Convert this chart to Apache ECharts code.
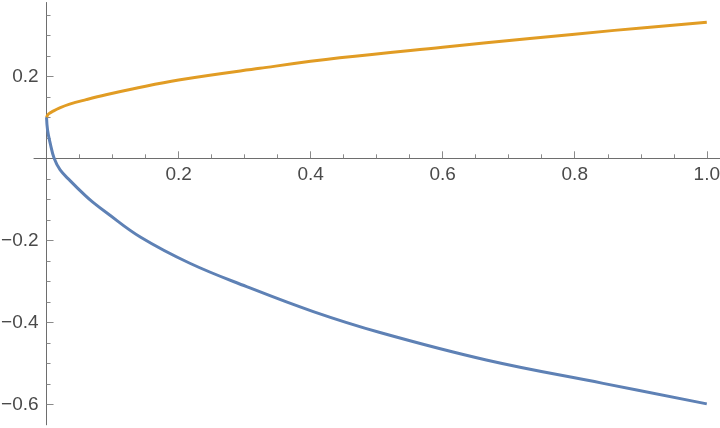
<!DOCTYPE html>
<html>
<head>
<meta charset="utf-8">
<script src="https://cdn.jsdelivr.net/npm/echarts@6/dist/echarts.min.js"></script>
<style>
  html, body { margin: 0; padding: 0; background: #fff; }
  #chart { width: 720px; height: 428px; }
</style>
</head>
<body>
<div id="chart"></div>
<script>
// values
var blueX = [0, 0.0015, 0.0055, 0.0115, 0.0206, 0.036, 0.058, 0.07, 0.091, 0.142, 0.217, 0.303, 0.404, 0.505, 0.666, 0.843, 1]
var blueY = [0.1, 0.069, 0.037, 0, -0.0285, -0.055, -0.09, -0.107, -0.133, -0.192, -0.256, -0.313, -0.374, -0.425, -0.492, -0.549, -0.599]
var orangeX = [0, 0.003, 0.01, 0.02, 0.035, 0.06, 0.09, 0.13, 0.2, 0.323, 0.444, 0.6, 0.732, 0.86, 1]
var orangeY = [0.1, 0.108, 0.115, 0.123, 0.132, 0.143, 0.155, 0.169, 0.191, 0.2195, 0.245, 0.271, 0.292, 0.312, 0.332]

var xMajor = [0.2, 0.4, 0.6, 0.8, 1.0]
var xMinor = [0.05, 0.1, 0.15, 0.25, 0.3, 0.35, 0.45, 0.5, 0.55, 0.65, 0.7, 0.75, 0.85, 0.9, 0.95]
var yMajor = [-0.6, -0.4, -0.2, 0.2]
var yMinor = [-0.55, -0.5, -0.45, -0.35, -0.3, -0.25, -0.15, -0.1, -0.05, 0.05, 0.1, 0.15, 0.25, 0.3, 0.35]

var xMin = -0.019, xMax = 1.02
var yMin = -0.65, yMax = 0.38

// grid box in pixels
var gLeft = 34, gRight = 0, gTop = 2.5, gBottom = 3.2
var gW = 720 - gLeft - gRight
var gH = 428 - gTop - gBottom
// axes cross at (0, 0): move them inward from the grid edge
var xAxisOffset = -(gH * (0 - yMin) / (yMax - yMin))
var yAxisOffset = -(gW * (0 - xMin) / (xMax - xMin))

function pairs(xs, ys) {
  return xs.map(function (x, i) { return [x, ys[i]] })
}

var labelFont = { color: '#4a4a4a', fontSize: 19, fontFamily: 'Liberation Sans' }
var axisGray = '#6e6e6e'

function xAxisOf(major) {
  return {
    type: 'value',
    position: 'bottom',
    offset: xAxisOffset,
    min: xMin,
    max: xMax,
    splitLine: { show: false },
    axisLine: { show: major, onZero: false, lineStyle: { color: axisGray, width: 1 } },
    axisTick: {
      show: true,
      inside: true,
      length: major ? 7 : 4,
      customValues: major ? xMajor : xMinor,
      lineStyle: { color: '#8a8a8a' }
    },
    axisLabel: Object.assign({
      show: major,
      margin: 7,
      customValues: xMajor,
      formatter: function (v) { return Number(v).toFixed(1) }
    }, labelFont)
  }
}

function yAxisOf(major) {
  return {
    type: 'value',
    position: 'left',
    offset: yAxisOffset,
    min: yMin,
    max: yMax,
    splitLine: { show: false },
    axisLine: { show: major, onZero: false, lineStyle: { color: axisGray, width: 1 } },
    axisTick: {
      show: true,
      inside: true,
      length: major ? 7 : 4,
      customValues: major ? yMajor : yMinor,
      lineStyle: { color: '#8a8a8a' }
    },
    axisLabel: Object.assign({
      show: major,
      margin: 8,
      customValues: yMajor,
      formatter: function (v) {
        var s = Math.abs(Number(v)).toFixed(1)
        return v < 0 ? '\u2212' + s : s
      }
    }, labelFont)
  }
}

var chart = echarts.init(document.getElementById('chart'))
chart.setOption({
  animation: false,
  backgroundColor: '#ffffff',
  grid: {
    left: gLeft,
    right: gRight,
    top: gTop,
    bottom: gBottom,
    containLabel: false,
    outerBoundsMode: 'none'
  },
  xAxis: [xAxisOf(true), xAxisOf(false)],
  yAxis: [yAxisOf(true), yAxisOf(false)],
  series: [
    {
      type: 'line',
      data: pairs(blueX, blueY),
      showSymbol: false,
      smooth: 0.4,
      lineStyle: { color: '#5E81B5', width: 3 },
      itemStyle: { color: '#5E81B5' }
    },
    {
      type: 'line',
      data: pairs(orangeX, orangeY),
      showSymbol: false,
      smooth: 0.4,
      lineStyle: { color: '#E19C24', width: 3 },
      itemStyle: { color: '#E19C24' }
    }
  ]
})
</script>
</body>
</html>
